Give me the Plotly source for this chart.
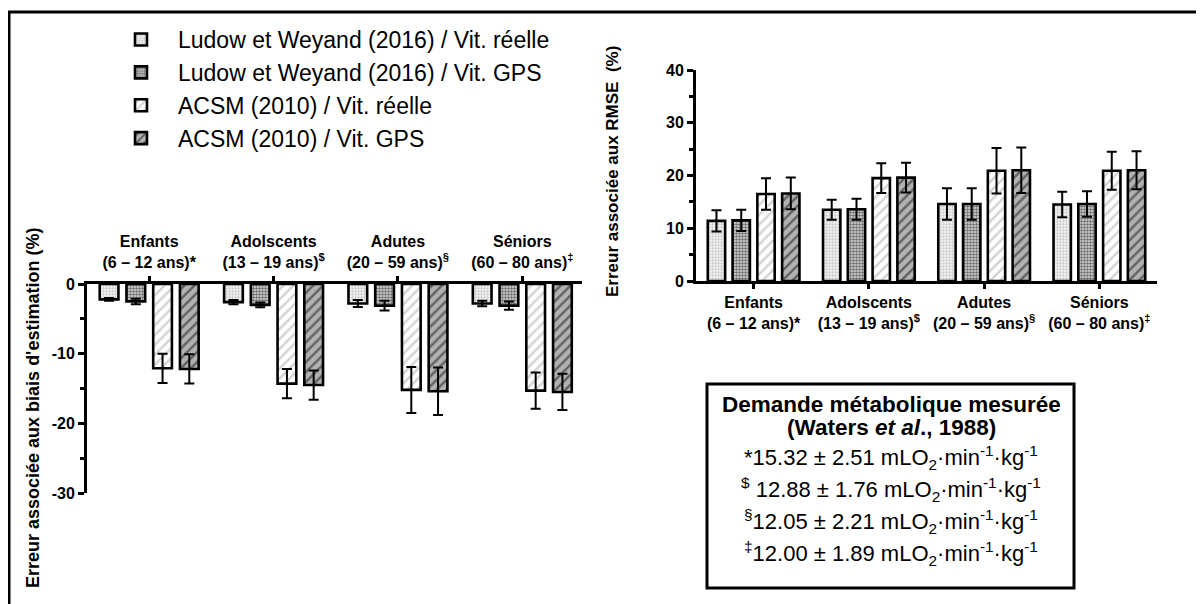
import plotly.graph_objects as go

# ---------------- data ----------------
categories = ["Enfants", "Adolscents", "Adutes", "Séniors"]
age_labels = ["(6 – 12 ans)*", "(13 – 19 ans)<sup>$</sup>",
              "(20 – 59 ans)<sup>§</sup>", "(60 – 80 ans)<sup>‡</sup>"]
series_names = ["Ludow et Weyand (2016) / Vit. réelle",
                "Ludow et Weyand (2016) / Vit. GPS",
                "ACSM (2010) / Vit. réelle",
                "ACSM (2010) / Vit. GPS"]

# biais d'estimation (%)
bias_lw_reelle = [-2.2, -2.6, -2.8, -2.8]
bias_lw_reelle_err = [0.2, 0.3, 0.5, 0.4]
bias_lw_gps = [-2.5, -3.0, -3.1, -3.1]
bias_lw_gps_err = [0.4, 0.35, 0.7, 0.6]
bias_acsm_reelle = [-12.1, -14.3, -15.2, -15.3]
bias_acsm_reelle_err = [2.1, 2.1, 3.3, 2.6]
bias_acsm_gps = [-12.2, -14.5, -15.4, -15.5]
bias_acsm_gps_err = [2.1, 2.1, 3.4, 2.6]

# RMSE (%)
rmse_lw_reelle = [11.4, 13.5, 14.6, 14.5]
rmse_lw_reelle_err = [2.0, 1.9, 3.0, 2.4]
rmse_lw_gps = [11.5, 13.6, 14.6, 14.6]
rmse_lw_gps_err = [2.0, 2.0, 3.0, 2.4]
rmse_acsm_reelle = [16.5, 19.5, 20.9, 20.9]
rmse_acsm_reelle_err = [3.0, 2.8, 4.3, 3.6]
rmse_acsm_gps = [16.6, 19.6, 21.0, 21.0]
rmse_acsm_gps_err = [3.0, 2.8, 4.3, 3.6]

y_ticks_bias = [-30, -20, -10, 0]
y_ticklabels_bias = ["-30", "-20", "-10", "0"]
y_ticks_rmse = [0, 10, 20, 30, 40]
y_ticklabels_rmse = ["0", "10", "20", "30", "40"]

info_lines = [
    "*15.32 ± 2.51 mLO<sub>2</sub>·min<sup>-1</sup>·kg<sup>-1</sup>",
    "<sup>$</sup> 12.88 ± 1.76 mLO<sub>2</sub>·min<sup>-1</sup>·kg<sup>-1</sup>",
    "<sup>§</sup>12.05 ± 2.21 mLO<sub>2</sub>·min<sup>-1</sup>·kg<sup>-1</sup>",
    "<sup>‡</sup>12.00 ± 1.89 mLO<sub>2</sub>·min<sup>-1</sup>·kg<sup>-1</sup>",
]

# ---------------- styles ----------------
W, H = 1204, 604
OX, OY = 8, 8          # page body offset
FONT = "Arial, Liberation Sans, sans-serif"
patterns = [
    dict(shape=".", fgcolor="#a0a0a0", bgcolor="#f4f4f4", size=3, solidity=0.45),
    dict(shape=".", fgcolor="#000000", bgcolor="#dcdcdc", size=3, solidity=0.55),
    dict(shape="/", fgcolor="#a8a8a8", bgcolor="white", size=7, solidity=0.35),
    dict(shape="/", fgcolor="#111111", bgcolor="#b2b2b2", size=7, solidity=0.35),
]

def px_x(x):
    return (x - OX) / W

def px_y(y):
    return 1 - (y - OY) / H

tick_text = [f"{c}<br>{a}" for c, a in zip(categories, age_labels)]

fig = go.Figure()

bias_vals = [bias_lw_reelle, bias_lw_gps, bias_acsm_reelle, bias_acsm_gps]
bias_errs = [bias_lw_reelle_err, bias_lw_gps_err, bias_acsm_reelle_err, bias_acsm_gps_err]
rmse_vals = [rmse_lw_reelle, rmse_lw_gps, rmse_acsm_reelle, rmse_acsm_gps]
rmse_errs = [rmse_lw_reelle_err, rmse_lw_gps_err, rmse_acsm_reelle_err, rmse_acsm_gps_err]

for i in range(4):
    fig.add_trace(go.Bar(
        x=categories, y=bias_vals[i], name=series_names[i],
        legendgroup=f"g{i}", showlegend=True,
        marker=dict(color="white", pattern=patterns[i],
                    line=dict(color="black", width=2.6)),
        error_y=dict(type="data", array=bias_errs[i], color="black",
                     thickness=2, width=5),
        xaxis="x", yaxis="y",
    ))
for i in range(4):
    fig.add_trace(go.Bar(
        x=categories, y=rmse_vals[i], name=series_names[i],
        legendgroup=f"g{i}", showlegend=False,
        marker=dict(color="white", pattern=patterns[i],
                    line=dict(color="black", width=2.6)),
        error_y=dict(type="data", array=rmse_errs[i], color="black",
                     thickness=2, width=5),
        xaxis="x2", yaxis="y2",
    ))

axis_common = dict(showline=True, linecolor="black", linewidth=3,
                   showgrid=False, zeroline=False, ticks="outside",
                   tickcolor="black", tickwidth=3, automargin=False)
cat_font = dict(size=16, weight="bold", family=FONT)
num_font = dict(size=16, weight="bold", family=FONT)

fig.update_layout(
    width=W, height=H,
    margin=dict(l=0, r=0, t=0, b=0, pad=0, autoexpand=False),
    paper_bgcolor="white", plot_bgcolor="rgba(0,0,0,0)",
    font=dict(family=FONT, color="black"),
    barmode="group", bargap=0.14, bargroupgap=0.3,
    showlegend=True,
    legend=dict(x=px_x(104), y=px_y(18), xanchor="left", yanchor="top",
                font=dict(size=23, family=FONT), tracegroupgap=0,
                bgcolor="rgba(0,0,0,0)", itemwidth=64),
    xaxis=dict(domain=[px_x(87), px_x(582)], anchor="y", side="top",
               type="category", categoryorder="array", categoryarray=categories,
               tickvals=categories, ticktext=tick_text, tickfont=cat_font,
               range=[-0.5, 3.48], ticklen=5, ticklabelstandoff=2, **axis_common),
    yaxis=dict(domain=[px_y(493), px_y(284)], anchor="x", range=[-30, 0],
               tickvals=y_ticks_bias, ticktext=y_ticklabels_bias, tickfont=num_font,
               ticklen=6,
               minor=dict(ticks="outside", ticklen=4, tickwidth=3, tickcolor="black", dtick=5),
               **axis_common),
    xaxis2=dict(domain=[px_x(696), px_x(1157)], anchor="y2", side="bottom",
                type="category", categoryorder="array", categoryarray=categories,
                tickvals=categories, ticktext=tick_text, tickfont=cat_font,
                range=[-0.5, 3.5], ticklen=5, **axis_common),
    yaxis2=dict(domain=[px_y(281), px_y(70)], anchor="x2", range=[0, 40],
                tickvals=y_ticks_rmse, ticktext=y_ticklabels_rmse, tickfont=num_font,
                ticklen=6,
                minor=dict(ticks="outside", ticklen=4, tickwidth=3, tickcolor="black", dtick=5),
                **axis_common),
)

def ann(text, x, y, size, angle=0):
    return dict(text=text, x=px_x(x), y=px_y(y), xref="paper", yref="paper",
                xanchor="center", yanchor="middle", showarrow=False,
                textangle=angle, font=dict(size=size, family=FONT, color="black"))

annotations = [
    ann("<b>Erreur associée aux biais d'estimation (%)</b>", 33, 408, 18, -90),
    ann("<b>Erreur associée aux RMSE  (%)</b>", 612, 172, 17, -90),
    ann("<b>Demande métabolique mesurée</b>", 891, 404, 22.5),
    ann("<b>(Waters <i>et al</i>., 1988)</b>", 891, 427, 22.5),
]
for k, line in enumerate(info_lines):
    annotations.append(ann(line, 891, 457 + 32 * k, 22))
fig.update_layout(annotations=annotations)

fig.update_layout(shapes=[
    dict(type="rect", xref="paper", yref="paper",
         x0=px_x(9), x1=px_x(1230), y0=px_y(630), y1=px_y(12),
         line=dict(color="black", width=3)),
    dict(type="rect", xref="paper", yref="paper",
         x0=px_x(707), x1=px_x(1074), y0=px_y(588), y1=px_y(384),
         line=dict(color="black", width=3)),
])

fig.write_html("out.html")
